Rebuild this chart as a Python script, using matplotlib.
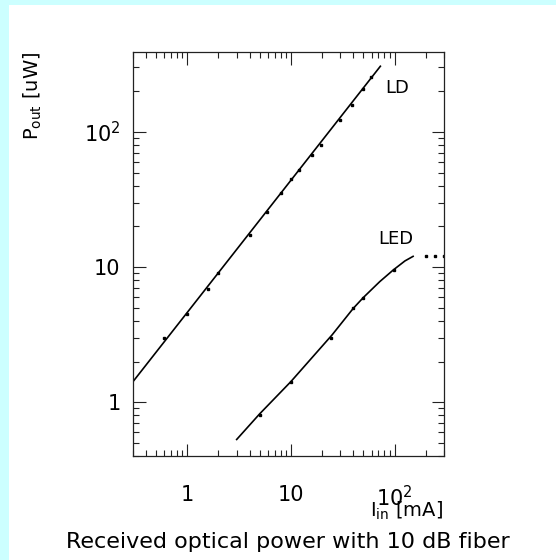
import matplotlib
matplotlib.use('Agg')
import matplotlib.pyplot as plt
from matplotlib.patches import Rectangle
from matplotlib.ticker import LogLocator, FixedLocator, NullFormatter

plt.rcParams['font.family'] = ['DejaVu Sans']
plt.rcParams['mathtext.fontset'] = 'dejavusans'

# LD: measured points and fitted line
ld_i = [0.6, 1.0, 1.57, 2.0, 4.0, 5.9, 8.0, 10.0, 12.0, 16.0, 19.5, 29.5, 38.5, 50.0, 59.0]
ld_p = [3.0, 4.5, 6.9, 9.0, 17.3, 25.6, 35.4, 44.5, 52.0, 68.0, 80.0, 122.0, 159.0, 206.0, 255.0]
ld_fit_i = [0.3, 73.0]
ld_fit_p = [1.42, 306.0]

# LED: measured points, fitted curve, saturation dots
led_i = [5.0, 10.0, 24.6, 39.8, 49.8, 98.5]
led_p = [0.81, 1.41, 3.0, 5.0, 5.93, 9.55]
led_fit_i = [3.0, 5.0, 10.0, 25.0, 40.0, 50.0, 72.0, 97.0, 126.0, 151.0]
led_fit_p = [0.53, 0.82, 1.42, 3.15, 4.95, 5.95, 7.8, 9.5, 11.1, 12.0]
led_sat_i = [199.0, 245.0, 297.0]
led_sat_p = [12.0, 12.0, 12.0]

x_ticks = [1, 10, 100]
x_ticklabels = ['1', '10', '$10^{2}$']
y_ticks = [1, 10, 100]
y_ticklabels = ['1', '10', '$10^{2}$']

fig = plt.figure(figsize=(5.56, 5.6), dpi=100)
fig.patch.set_facecolor('#ccffff')
fig.patches.append(Rectangle((9 / 556, 0), 1, 555 / 560, transform=fig.transFigure,
                             facecolor='white', edgecolor='none', zorder=-1))

ax = fig.add_axes([133 / 556, 104 / 560, 311 / 556, 404 / 560])
ax.set_xscale('log')
ax.set_yscale('log')
ax.set_xlim(0.3, 300)
ax.set_ylim(0.4, 390)

ax.plot(ld_fit_i, ld_fit_p, color='black', lw=1.2)
ax.plot(ld_i, ld_p, 's', color='black', ms=1.6)
ax.plot(led_fit_i, led_fit_p, color='black', lw=1.2)
ax.plot(led_i, led_p, 's', color='black', ms=1.6)
ax.plot(led_sat_i, led_sat_p, 's', color='black', ms=1.6)

ax.text(80.6, 194, 'LD', fontsize=13, ha='left', va='baseline')
ax.text(69.5, 14.8, 'LED', fontsize=13, ha='left', va='baseline')

# ticks
ax.xaxis.set_major_locator(FixedLocator(x_ticks))
ax.yaxis.set_major_locator(FixedLocator(y_ticks))
ax.xaxis.set_minor_locator(LogLocator(base=10, subs=range(2, 10)))
ax.yaxis.set_minor_locator(LogLocator(base=10, subs=range(2, 10)))
ax.xaxis.set_minor_formatter(NullFormatter())
ax.yaxis.set_minor_formatter(NullFormatter())
ax.set_xticklabels(x_ticklabels)
ax.set_yticklabels(y_ticklabels)
ax.tick_params(which='both', direction='in', top=True, right=True, width=0.8, color='#222222')
ax.tick_params(which='major', length=9, labelsize=15)
ax.tick_params(which='minor', length=4.5)
ax.tick_params(axis='x', which='major', pad=21)
ax.tick_params(axis='y', which='major', pad=9)
for s in ax.spines.values():
    s.set_linewidth(0.9)
    s.set_color('#222222')

# axis labels
fig.text(32.5 / 556, 1 - 52 / 560, r'$\mathrm{P_{out}}$ [uW]', rotation=90,
         fontsize=14, ha='center', va='top')
fig.text(443 / 556, 1 - 517 / 560, r'$\mathrm{I_{in}}$ [mA]',
         fontsize=14, ha='right', va='baseline')
fig.text(288 / 556, 1 - 548.3 / 560, 'Received optical power with 10 dB fiber',
         fontsize=16, ha='center', va='baseline')

fig.savefig('out.png', dpi=100, facecolor=fig.get_facecolor())
